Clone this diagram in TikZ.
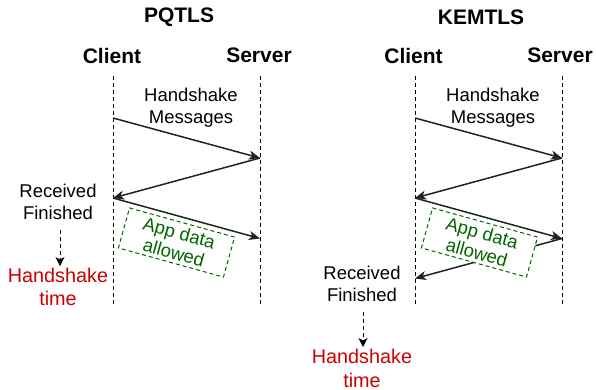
\documentclass[tikz,border=0pt]{standalone}
\usepackage{fontspec}
\setmainfont{Liberation Sans}
\usetikzlibrary{arrows.meta}
\definecolor{hsred}{HTML}{CC0000}
\definecolor{appgreen}{HTML}{006600}
\definecolor{msgline}{HTML}{222222}
\begin{document}
\begin{tikzpicture}[x=1pt,y=-1pt,
  title/.style={font=\fontsize{21}{25}\selectfont\bfseries, inner sep=0pt},
  msgtext/.style={font=\fontsize{18.5}{22}\selectfont, align=center, inner sep=0pt},
  redtext/.style={font=\fontsize{19.8}{23.5}\selectfont, align=center, text=hsred, inner sep=0pt},
  lifeline/.style={dash pattern=on 4pt off 3pt, line width=1pt, black},
  msg/.style={line width=1.5pt, msgline, -{Stealth[length=11pt,width=9pt,inset=3pt]}},
  appbox/.style={draw=appgreen, dash pattern=on 4pt off 3pt, fill=white, line width=1pt,
    text=appgreen, rotate=-15.5, minimum width=109pt, minimum height=41.5pt,
    align=center, inner sep=0pt, font=\fontsize{18.5}{20.5}\selectfont},
  timearrow/.style={dash pattern=on 4pt off 3pt, line width=1pt, black,
    -{Stealth[length=9pt,width=9pt,inset=2.5pt]}}]
\useasboundingbox (0,0) rectangle (596,389);

% ---------- PQTLS ----------
\node[title] (t1) at (179,17.5) {PQTLS};
\node[title] (c1) at (112,55.5) {Client};
\node[title] (s1) at (259,55.5) {Server};
\coordinate (c1top) at (113,76);
\coordinate (c1bot) at (113,307);
\coordinate (s1top) at (260,76);
\coordinate (s1bot) at (260,307);
\draw[lifeline] (c1top) -- (c1bot);
\draw[lifeline] (s1top) -- (s1bot);
\coordinate (c1a) at (113,118);
\coordinate (s1a) at (260,158);
\coordinate (c1b) at (113,198);
\coordinate (s1b) at (260,238.5);
\draw[msg] (c1a) -- (s1a);
\draw[msg] (s1a) -- (c1b);
\draw[msg] (c1b) -- (s1b);
\node[msgtext] (hm1) at (191,108) {Handshake\\Messages};
\node[msgtext] (rf1) at (58,202) {Received\\Finished};
\node[redtext] (ht1) at (58,287) {Handshake\\time};
\coordinate (ta1) at (60,230);
\coordinate (tb1) at (60,266);
\draw[timearrow] (ta1) -- (tb1);
\node[appbox] (ad1) at (176.5,242.5) {App data\\allowed};

% ---------- KEMTLS ----------
\node[title] (t2) at (481,17.5) {KEMTLS};
\node[title] (c2) at (413.5,55.5) {Client};
\node[title] (s2) at (560,55.5) {Server};
\coordinate (c2top) at (415,76);
\coordinate (c2bot) at (415,307);
\coordinate (s2top) at (562,76);
\coordinate (s2bot) at (562,307);
\draw[lifeline] (c2top) -- (c2bot);
\draw[lifeline] (s2top) -- (s2bot);
\coordinate (c2a) at (415,118);
\coordinate (s2a) at (562,158);
\coordinate (c2b) at (415,198);
\coordinate (s2b) at (562,238.5);
\coordinate (c2c) at (415,278.5);
\draw[msg] (c2a) -- (s2a);
\draw[msg] (s2a) -- (c2b);
\draw[msg] (c2b) -- (s2b);
\draw[msg] (s2b) -- (c2c);
\node[msgtext] (hm2) at (493,108) {Handshake\\Messages};
\node[msgtext] (rf2) at (362,284) {Received\\Finished};
\node[redtext] (ht2) at (362,368.5) {Handshake\\time};
\coordinate (ta2) at (363,312);
\coordinate (tb2) at (363,347);
\draw[timearrow] (ta2) -- (tb2);
\node[appbox] (ad2) at (479.5,242.5) {App data\\allowed};
\end{tikzpicture}
\end{document}
